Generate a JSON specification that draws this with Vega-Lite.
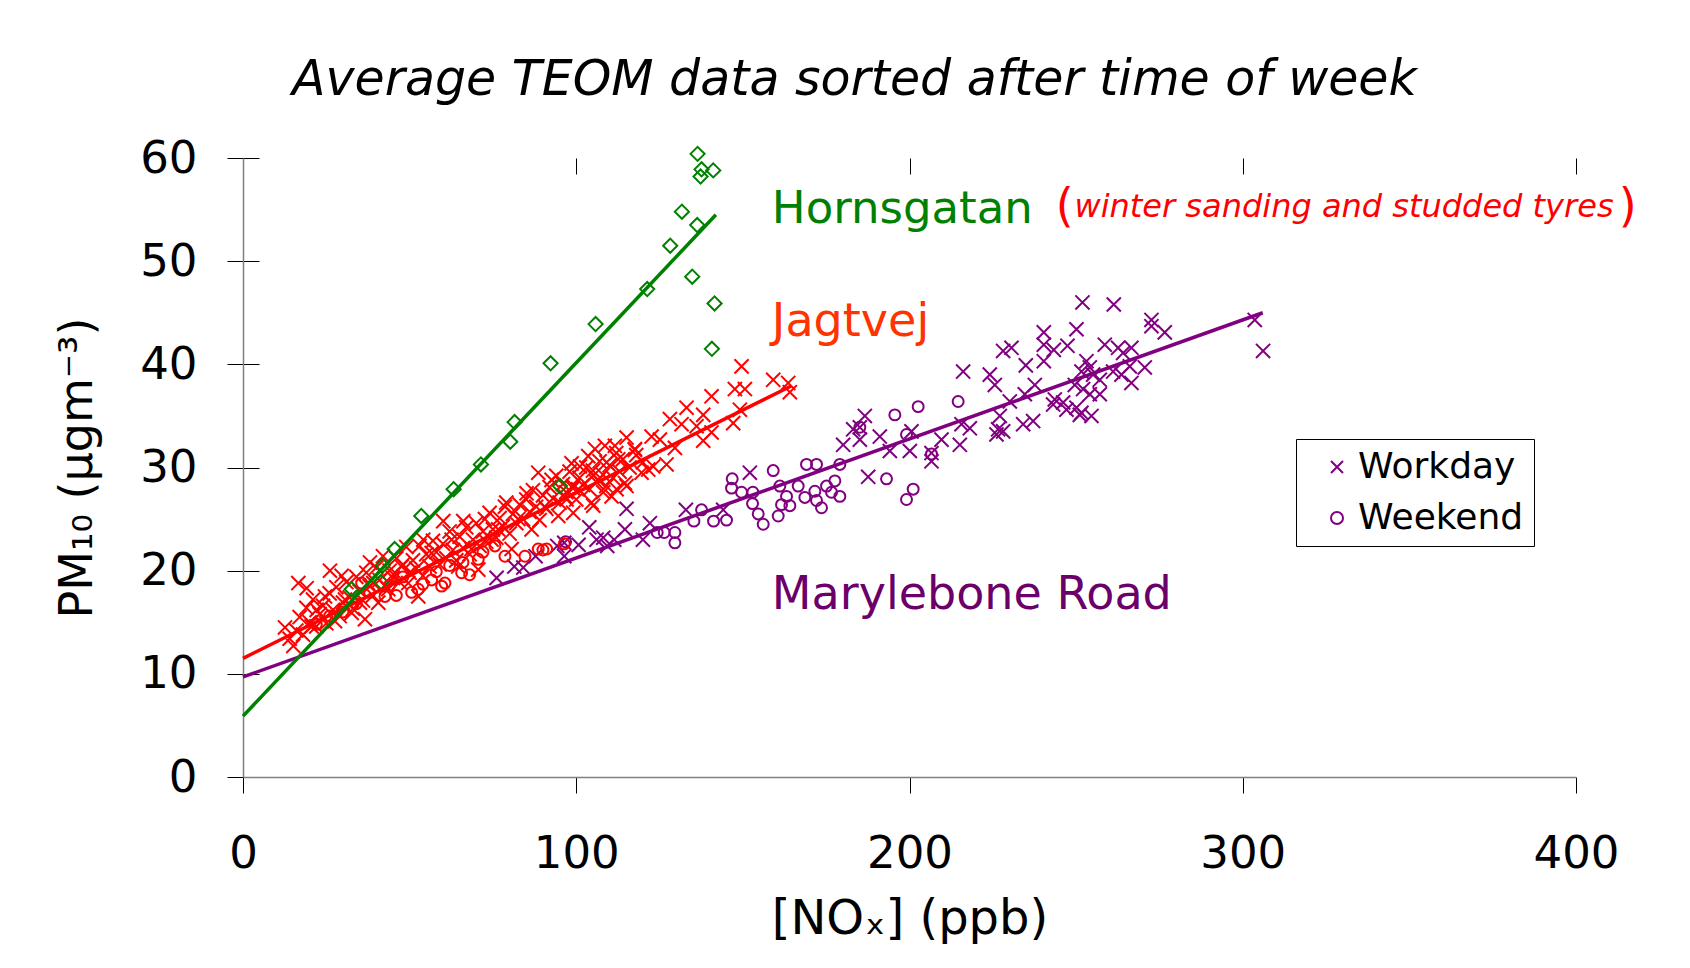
{
  "$schema": "https://vega.github.io/schema/vega-lite/v6.json",
  "width": 1333,
  "height": 619,
  "autosize": {"type": "none"},
  "padding": {"left": 243, "top": 158, "right": 114, "bottom": 191},
  "background": "white",
  "title": {"text": "Average TEOM data sorted after time of week", "font": "DejaVu Sans", "fontSize": 49, "fontStyle": "italic", "fontWeight": "normal", "color": "black", "anchor": "middle", "frame": "group", "baseline": "alphabetic", "offset": -8, "dx": -55},
  "config": {"view": {"stroke": null}, "font": "DejaVu Sans"},
  "datasets": {
    "fits": [
      {"site": "Marylebone Road", "nox": 0, "pm": 9.7},
      {"site": "Marylebone Road", "nox": 306, "pm": 45.0},
      {"site": "Jagtvej", "nox": 0, "pm": 11.5},
      {"site": "Jagtvej", "nox": 164.5, "pm": 37.9},
      {"site": "Hornsgatan", "nox": 0, "pm": 5.9},
      {"site": "Hornsgatan", "nox": 141.9, "pm": 54.5}
    ],
    "pts": [
      {"site": "Marylebone Road", "marker": "Workday", "nox": 76.1, "pm": 19.3},
      {"site": "Marylebone Road", "marker": "Workday", "nox": 81.4, "pm": 20.4},
      {"site": "Marylebone Road", "marker": "Workday", "nox": 84.1, "pm": 20.3},
      {"site": "Marylebone Road", "marker": "Workday", "nox": 87.8, "pm": 21.4},
      {"site": "Marylebone Road", "marker": "Workday", "nox": 94.3, "pm": 22.4},
      {"site": "Marylebone Road", "marker": "Workday", "nox": 96.4, "pm": 21.4},
      {"site": "Marylebone Road", "marker": "Workday", "nox": 96.4, "pm": 22.7},
      {"site": "Marylebone Road", "marker": "Workday", "nox": 100.7, "pm": 22.5},
      {"site": "Marylebone Road", "marker": "Workday", "nox": 103.9, "pm": 24.2},
      {"site": "Marylebone Road", "marker": "Workday", "nox": 106.1, "pm": 23.0},
      {"site": "Marylebone Road", "marker": "Workday", "nox": 108.1, "pm": 23.2},
      {"site": "Marylebone Road", "marker": "Workday", "nox": 109.3, "pm": 22.4},
      {"site": "Marylebone Road", "marker": "Workday", "nox": 111.4, "pm": 23.0},
      {"site": "Marylebone Road", "marker": "Workday", "nox": 114.6, "pm": 24.0},
      {"site": "Marylebone Road", "marker": "Workday", "nox": 115.1, "pm": 26.0},
      {"site": "Marylebone Road", "marker": "Workday", "nox": 120.0, "pm": 23.0},
      {"site": "Marylebone Road", "marker": "Workday", "nox": 122.1, "pm": 24.6},
      {"site": "Marylebone Road", "marker": "Workday", "nox": 132.9, "pm": 25.9},
      {"site": "Marylebone Road", "marker": "Workday", "nox": 144.1, "pm": 25.9},
      {"site": "Marylebone Road", "marker": "Workday", "nox": 152.1, "pm": 29.5},
      {"site": "Marylebone Road", "marker": "Workday", "nox": 180.1, "pm": 32.2},
      {"site": "Marylebone Road", "marker": "Workday", "nox": 183.1, "pm": 33.7},
      {"site": "Marylebone Road", "marker": "Workday", "nox": 185.1, "pm": 32.7},
      {"site": "Marylebone Road", "marker": "Workday", "nox": 185.1, "pm": 33.9},
      {"site": "Marylebone Road", "marker": "Workday", "nox": 186.6, "pm": 35.0},
      {"site": "Marylebone Road", "marker": "Workday", "nox": 187.6, "pm": 29.1},
      {"site": "Marylebone Road", "marker": "Workday", "nox": 191.1, "pm": 33.0},
      {"site": "Marylebone Road", "marker": "Workday", "nox": 194.1, "pm": 31.6},
      {"site": "Marylebone Road", "marker": "Workday", "nox": 251.9, "pm": 46.0},
      {"site": "Marylebone Road", "marker": "Workday", "nox": 261.3, "pm": 45.8},
      {"site": "Marylebone Road", "marker": "Workday", "nox": 272.6, "pm": 44.3},
      {"site": "Marylebone Road", "marker": "Workday", "nox": 272.6, "pm": 43.7},
      {"site": "Marylebone Road", "marker": "Workday", "nox": 276.6, "pm": 43.1},
      {"site": "Marylebone Road", "marker": "Workday", "nox": 250.1, "pm": 43.4},
      {"site": "Marylebone Road", "marker": "Workday", "nox": 240.3, "pm": 43.1},
      {"site": "Marylebone Road", "marker": "Workday", "nox": 240.3, "pm": 41.9},
      {"site": "Marylebone Road", "marker": "Workday", "nox": 243.3, "pm": 41.4},
      {"site": "Marylebone Road", "marker": "Workday", "nox": 247.4, "pm": 41.8},
      {"site": "Marylebone Road", "marker": "Workday", "nox": 228.1, "pm": 41.3},
      {"site": "Marylebone Road", "marker": "Workday", "nox": 230.6, "pm": 41.6},
      {"site": "Marylebone Road", "marker": "Workday", "nox": 234.9, "pm": 39.9},
      {"site": "Marylebone Road", "marker": "Workday", "nox": 240.3, "pm": 40.3},
      {"site": "Marylebone Road", "marker": "Workday", "nox": 216.1, "pm": 39.3},
      {"site": "Marylebone Road", "marker": "Workday", "nox": 224.1, "pm": 39.0},
      {"site": "Marylebone Road", "marker": "Workday", "nox": 225.6, "pm": 38.0},
      {"site": "Marylebone Road", "marker": "Workday", "nox": 237.6, "pm": 38.0},
      {"site": "Marylebone Road", "marker": "Workday", "nox": 234.6, "pm": 37.1},
      {"site": "Marylebone Road", "marker": "Workday", "nox": 230.1, "pm": 36.4},
      {"site": "Marylebone Road", "marker": "Workday", "nox": 215.6, "pm": 34.2},
      {"site": "Marylebone Road", "marker": "Workday", "nox": 218.1, "pm": 33.8},
      {"site": "Marylebone Road", "marker": "Workday", "nox": 227.1, "pm": 35.0},
      {"site": "Marylebone Road", "marker": "Workday", "nox": 226.6, "pm": 33.7},
      {"site": "Marylebone Road", "marker": "Workday", "nox": 228.1, "pm": 33.5},
      {"site": "Marylebone Road", "marker": "Workday", "nox": 226.1, "pm": 33.2},
      {"site": "Marylebone Road", "marker": "Workday", "nox": 234.1, "pm": 34.2},
      {"site": "Marylebone Road", "marker": "Workday", "nox": 237.1, "pm": 34.5},
      {"site": "Marylebone Road", "marker": "Workday", "nox": 215.1, "pm": 32.2},
      {"site": "Marylebone Road", "marker": "Workday", "nox": 209.6, "pm": 32.7},
      {"site": "Marylebone Road", "marker": "Workday", "nox": 206.6, "pm": 31.4},
      {"site": "Marylebone Road", "marker": "Workday", "nox": 206.6, "pm": 30.6},
      {"site": "Marylebone Road", "marker": "Workday", "nox": 200.6, "pm": 33.5},
      {"site": "Marylebone Road", "marker": "Workday", "nox": 200.1, "pm": 31.6},
      {"site": "Marylebone Road", "marker": "Workday", "nox": 258.6, "pm": 41.9},
      {"site": "Marylebone Road", "marker": "Workday", "nox": 262.6, "pm": 41.6},
      {"site": "Marylebone Road", "marker": "Workday", "nox": 264.1, "pm": 41.1},
      {"site": "Marylebone Road", "marker": "Workday", "nox": 266.6, "pm": 41.6},
      {"site": "Marylebone Road", "marker": "Workday", "nox": 253.1, "pm": 40.3},
      {"site": "Marylebone Road", "marker": "Workday", "nox": 254.1, "pm": 39.7},
      {"site": "Marylebone Road", "marker": "Workday", "nox": 251.6, "pm": 39.3},
      {"site": "Marylebone Road", "marker": "Workday", "nox": 255.1, "pm": 39.0},
      {"site": "Marylebone Road", "marker": "Workday", "nox": 257.1, "pm": 38.5},
      {"site": "Marylebone Road", "marker": "Workday", "nox": 261.1, "pm": 39.3},
      {"site": "Marylebone Road", "marker": "Workday", "nox": 263.6, "pm": 39.0},
      {"site": "Marylebone Road", "marker": "Workday", "nox": 266.1, "pm": 39.8},
      {"site": "Marylebone Road", "marker": "Workday", "nox": 270.6, "pm": 39.7},
      {"site": "Marylebone Road", "marker": "Workday", "nox": 266.6, "pm": 38.2},
      {"site": "Marylebone Road", "marker": "Workday", "nox": 249.6, "pm": 38.0},
      {"site": "Marylebone Road", "marker": "Workday", "nox": 252.1, "pm": 37.6},
      {"site": "Marylebone Road", "marker": "Workday", "nox": 254.1, "pm": 37.1},
      {"site": "Marylebone Road", "marker": "Workday", "nox": 257.1, "pm": 37.1},
      {"site": "Marylebone Road", "marker": "Workday", "nox": 243.6, "pm": 36.6},
      {"site": "Marylebone Road", "marker": "Workday", "nox": 246.1, "pm": 36.3},
      {"site": "Marylebone Road", "marker": "Workday", "nox": 243.1, "pm": 36.1},
      {"site": "Marylebone Road", "marker": "Workday", "nox": 247.1, "pm": 35.6},
      {"site": "Marylebone Road", "marker": "Workday", "nox": 250.1, "pm": 35.8},
      {"site": "Marylebone Road", "marker": "Workday", "nox": 251.6, "pm": 35.3},
      {"site": "Marylebone Road", "marker": "Workday", "nox": 254.6, "pm": 35.0},
      {"site": "Marylebone Road", "marker": "Workday", "nox": 251.1, "pm": 35.1},
      {"site": "Marylebone Road", "marker": "Workday", "nox": 303.6, "pm": 44.3},
      {"site": "Marylebone Road", "marker": "Workday", "nox": 306.1, "pm": 41.3},
      {"site": "Marylebone Road", "marker": "Weekend", "nox": 96.8, "pm": 22.8},
      {"site": "Marylebone Road", "marker": "Weekend", "nox": 124.3, "pm": 23.7},
      {"site": "Marylebone Road", "marker": "Weekend", "nox": 126.4, "pm": 23.7},
      {"site": "Marylebone Road", "marker": "Weekend", "nox": 129.6, "pm": 23.7},
      {"site": "Marylebone Road", "marker": "Weekend", "nox": 129.6, "pm": 22.7},
      {"site": "Marylebone Road", "marker": "Weekend", "nox": 135.3, "pm": 24.8},
      {"site": "Marylebone Road", "marker": "Weekend", "nox": 137.6, "pm": 25.9},
      {"site": "Marylebone Road", "marker": "Weekend", "nox": 141.2, "pm": 24.8},
      {"site": "Marylebone Road", "marker": "Weekend", "nox": 145.1, "pm": 24.9},
      {"site": "Marylebone Road", "marker": "Weekend", "nox": 146.8, "pm": 28.9},
      {"site": "Marylebone Road", "marker": "Weekend", "nox": 146.6, "pm": 28.0},
      {"site": "Marylebone Road", "marker": "Weekend", "nox": 149.6, "pm": 27.6},
      {"site": "Marylebone Road", "marker": "Weekend", "nox": 153.0, "pm": 27.6},
      {"site": "Marylebone Road", "marker": "Weekend", "nox": 152.9, "pm": 26.5},
      {"site": "Marylebone Road", "marker": "Weekend", "nox": 154.6, "pm": 25.5},
      {"site": "Marylebone Road", "marker": "Weekend", "nox": 156.1, "pm": 24.5},
      {"site": "Marylebone Road", "marker": "Weekend", "nox": 159.1, "pm": 29.7},
      {"site": "Marylebone Road", "marker": "Weekend", "nox": 160.6, "pm": 25.3},
      {"site": "Marylebone Road", "marker": "Weekend", "nox": 161.1, "pm": 28.2},
      {"site": "Marylebone Road", "marker": "Weekend", "nox": 161.6, "pm": 26.4},
      {"site": "Marylebone Road", "marker": "Weekend", "nox": 163.1, "pm": 27.2},
      {"site": "Marylebone Road", "marker": "Weekend", "nox": 164.1, "pm": 26.3},
      {"site": "Marylebone Road", "marker": "Weekend", "nox": 166.6, "pm": 28.2},
      {"site": "Marylebone Road", "marker": "Weekend", "nox": 168.6, "pm": 27.1},
      {"site": "Marylebone Road", "marker": "Weekend", "nox": 169.1, "pm": 30.3},
      {"site": "Marylebone Road", "marker": "Weekend", "nox": 171.6, "pm": 27.7},
      {"site": "Marylebone Road", "marker": "Weekend", "nox": 172.1, "pm": 30.3},
      {"site": "Marylebone Road", "marker": "Weekend", "nox": 172.1, "pm": 26.8},
      {"site": "Marylebone Road", "marker": "Weekend", "nox": 173.6, "pm": 26.1},
      {"site": "Marylebone Road", "marker": "Weekend", "nox": 175.1, "pm": 28.2},
      {"site": "Marylebone Road", "marker": "Weekend", "nox": 176.6, "pm": 27.6},
      {"site": "Marylebone Road", "marker": "Weekend", "nox": 177.6, "pm": 28.7},
      {"site": "Marylebone Road", "marker": "Weekend", "nox": 179.1, "pm": 27.2},
      {"site": "Marylebone Road", "marker": "Weekend", "nox": 179.1, "pm": 30.3},
      {"site": "Marylebone Road", "marker": "Weekend", "nox": 185.1, "pm": 33.9},
      {"site": "Marylebone Road", "marker": "Weekend", "nox": 193.1, "pm": 28.9},
      {"site": "Marylebone Road", "marker": "Weekend", "nox": 195.6, "pm": 35.1},
      {"site": "Marylebone Road", "marker": "Weekend", "nox": 199.1, "pm": 26.9},
      {"site": "Marylebone Road", "marker": "Weekend", "nox": 199.1, "pm": 33.2},
      {"site": "Marylebone Road", "marker": "Weekend", "nox": 201.1, "pm": 27.9},
      {"site": "Marylebone Road", "marker": "Weekend", "nox": 202.6, "pm": 35.9},
      {"site": "Marylebone Road", "marker": "Weekend", "nox": 206.6, "pm": 31.3},
      {"site": "Marylebone Road", "marker": "Weekend", "nox": 214.6, "pm": 36.4},
      {"site": "Jagtvej", "marker": "Workday", "nox": 12.6, "pm": 14.5},
      {"site": "Jagtvej", "marker": "Workday", "nox": 15.1, "pm": 12.7},
      {"site": "Jagtvej", "marker": "Workday", "nox": 16.6, "pm": 18.8},
      {"site": "Jagtvej", "marker": "Workday", "nox": 19.1, "pm": 18.3},
      {"site": "Jagtvej", "marker": "Workday", "nox": 20.6, "pm": 14.6},
      {"site": "Jagtvej", "marker": "Workday", "nox": 22.1, "pm": 16.2},
      {"site": "Jagtvej", "marker": "Workday", "nox": 24.6, "pm": 17.5},
      {"site": "Jagtvej", "marker": "Workday", "nox": 26.1, "pm": 20.0},
      {"site": "Jagtvej", "marker": "Workday", "nox": 27.6, "pm": 15.1},
      {"site": "Jagtvej", "marker": "Workday", "nox": 29.6, "pm": 19.5},
      {"site": "Jagtvej", "marker": "Workday", "nox": 30.6, "pm": 17.2},
      {"site": "Jagtvej", "marker": "Workday", "nox": 32.6, "pm": 15.9},
      {"site": "Jagtvej", "marker": "Workday", "nox": 35.1, "pm": 16.9},
      {"site": "Jagtvej", "marker": "Workday", "nox": 36.6, "pm": 15.3},
      {"site": "Jagtvej", "marker": "Workday", "nox": 38.1, "pm": 20.8},
      {"site": "Jagtvej", "marker": "Workday", "nox": 39.1, "pm": 18.8},
      {"site": "Jagtvej", "marker": "Workday", "nox": 40.6, "pm": 16.9},
      {"site": "Jagtvej", "marker": "Workday", "nox": 43.6, "pm": 18.2},
      {"site": "Jagtvej", "marker": "Workday", "nox": 45.6, "pm": 19.8},
      {"site": "Jagtvej", "marker": "Workday", "nox": 47.6, "pm": 20.4},
      {"site": "Jagtvej", "marker": "Workday", "nox": 49.6, "pm": 18.8},
      {"site": "Jagtvej", "marker": "Workday", "nox": 52.6, "pm": 17.5},
      {"site": "Jagtvej", "marker": "Workday", "nox": 54.1, "pm": 23.0},
      {"site": "Jagtvej", "marker": "Workday", "nox": 56.6, "pm": 21.7},
      {"site": "Jagtvej", "marker": "Workday", "nox": 60.1, "pm": 24.8},
      {"site": "Jagtvej", "marker": "Workday", "nox": 62.6, "pm": 23.0},
      {"site": "Jagtvej", "marker": "Workday", "nox": 64.6, "pm": 20.4},
      {"site": "Jagtvej", "marker": "Workday", "nox": 66.1, "pm": 24.8},
      {"site": "Jagtvej", "marker": "Workday", "nox": 68.6, "pm": 22.1},
      {"site": "Jagtvej", "marker": "Workday", "nox": 70.6, "pm": 20.1},
      {"site": "Jagtvej", "marker": "Workday", "nox": 72.6, "pm": 25.0},
      {"site": "Jagtvej", "marker": "Workday", "nox": 74.6, "pm": 23.0},
      {"site": "Jagtvej", "marker": "Workday", "nox": 76.6, "pm": 24.0},
      {"site": "Jagtvej", "marker": "Workday", "nox": 78.6, "pm": 26.2},
      {"site": "Jagtvej", "marker": "Workday", "nox": 80.6, "pm": 22.1},
      {"site": "Jagtvej", "marker": "Workday", "nox": 82.6, "pm": 25.0},
      {"site": "Jagtvej", "marker": "Workday", "nox": 85.1, "pm": 27.5},
      {"site": "Jagtvej", "marker": "Workday", "nox": 86.6, "pm": 24.0},
      {"site": "Jagtvej", "marker": "Workday", "nox": 88.6, "pm": 29.5},
      {"site": "Jagtvej", "marker": "Workday", "nox": 90.6, "pm": 26.2},
      {"site": "Jagtvej", "marker": "Workday", "nox": 92.6, "pm": 28.8},
      {"site": "Jagtvej", "marker": "Workday", "nox": 94.6, "pm": 25.3},
      {"site": "Jagtvej", "marker": "Workday", "nox": 96.6, "pm": 27.2},
      {"site": "Jagtvej", "marker": "Workday", "nox": 98.6, "pm": 30.4},
      {"site": "Jagtvej", "marker": "Workday", "nox": 100.6, "pm": 27.9},
      {"site": "Jagtvej", "marker": "Workday", "nox": 103.6, "pm": 31.1},
      {"site": "Jagtvej", "marker": "Workday", "nox": 104.6, "pm": 26.6},
      {"site": "Jagtvej", "marker": "Workday", "nox": 106.6, "pm": 28.8},
      {"site": "Jagtvej", "marker": "Workday", "nox": 108.6, "pm": 32.1},
      {"site": "Jagtvej", "marker": "Workday", "nox": 110.6, "pm": 27.2},
      {"site": "Jagtvej", "marker": "Workday", "nox": 112.6, "pm": 30.8},
      {"site": "Jagtvej", "marker": "Workday", "nox": 114.6, "pm": 28.5},
      {"site": "Jagtvej", "marker": "Workday", "nox": 117.6, "pm": 31.7},
      {"site": "Jagtvej", "marker": "Workday", "nox": 119.6, "pm": 29.5},
      {"site": "Jagtvej", "marker": "Workday", "nox": 149.6, "pm": 39.8},
      {"site": "Jagtvej", "marker": "Workday", "nox": 159.1, "pm": 38.5},
      {"site": "Jagtvej", "marker": "Workday", "nox": 163.6, "pm": 38.2},
      {"site": "Jagtvej", "marker": "Workday", "nox": 164.1, "pm": 37.3},
      {"site": "Jagtvej", "marker": "Workday", "nox": 147.6, "pm": 37.6},
      {"site": "Jagtvej", "marker": "Workday", "nox": 150.6, "pm": 37.6},
      {"site": "Jagtvej", "marker": "Workday", "nox": 140.6, "pm": 36.9},
      {"site": "Jagtvej", "marker": "Workday", "nox": 133.1, "pm": 35.8},
      {"site": "Jagtvej", "marker": "Workday", "nox": 138.1, "pm": 35.1},
      {"site": "Jagtvej", "marker": "Workday", "nox": 149.1, "pm": 35.6},
      {"site": "Jagtvej", "marker": "Workday", "nox": 147.1, "pm": 34.3},
      {"site": "Jagtvej", "marker": "Workday", "nox": 128.1, "pm": 34.7},
      {"site": "Jagtvej", "marker": "Workday", "nox": 131.6, "pm": 34.2},
      {"site": "Jagtvej", "marker": "Workday", "nox": 136.1, "pm": 34.0},
      {"site": "Jagtvej", "marker": "Workday", "nox": 140.6, "pm": 33.4},
      {"site": "Jagtvej", "marker": "Workday", "nox": 122.6, "pm": 33.0},
      {"site": "Jagtvej", "marker": "Workday", "nox": 138.1, "pm": 32.6},
      {"site": "Jagtvej", "marker": "Workday", "nox": 115.1, "pm": 32.9},
      {"site": "Jagtvej", "marker": "Workday", "nox": 117.6, "pm": 31.8},
      {"site": "Jagtvej", "marker": "Workday", "nox": 125.1, "pm": 32.7},
      {"site": "Jagtvej", "marker": "Workday", "nox": 129.6, "pm": 31.9},
      {"site": "Jagtvej", "marker": "Workday", "nox": 123.1, "pm": 30.1},
      {"site": "Jagtvej", "marker": "Workday", "nox": 127.1, "pm": 30.3},
      {"site": "Jagtvej", "marker": "Workday", "nox": 111.6, "pm": 32.1},
      {"site": "Jagtvej", "marker": "Workday", "nox": 105.6, "pm": 31.8},
      {"site": "Jagtvej", "marker": "Workday", "nox": 109.1, "pm": 30.5},
      {"site": "Jagtvej", "marker": "Workday", "nox": 115.1, "pm": 28.2},
      {"site": "Jagtvej", "marker": "Workday", "nox": 105.1, "pm": 29.2},
      {"site": "Jagtvej", "marker": "Workday", "nox": 101.1, "pm": 30.1},
      {"site": "Jagtvej", "marker": "Workday", "nox": 99.1, "pm": 28.2},
      {"site": "Jagtvej", "marker": "Workday", "nox": 108.1, "pm": 27.6},
      {"site": "Jagtvej", "marker": "Workday", "nox": 105.1, "pm": 26.3},
      {"site": "Jagtvej", "marker": "Workday", "nox": 97.1, "pm": 26.9},
      {"site": "Jagtvej", "marker": "Workday", "nox": 99.1, "pm": 25.6},
      {"site": "Jagtvej", "marker": "Workday", "nox": 112.1, "pm": 27.9},
      {"site": "Jagtvej", "marker": "Workday", "nox": 121.6, "pm": 29.8},
      {"site": "Jagtvej", "marker": "Workday", "nox": 14, "pm": 13.4},
      {"site": "Jagtvej", "marker": "Workday", "nox": 16, "pm": 14.2},
      {"site": "Jagtvej", "marker": "Workday", "nox": 17, "pm": 15.5},
      {"site": "Jagtvej", "marker": "Workday", "nox": 18, "pm": 13.8},
      {"site": "Jagtvej", "marker": "Workday", "nox": 19, "pm": 16.4},
      {"site": "Jagtvej", "marker": "Workday", "nox": 20, "pm": 15.0},
      {"site": "Jagtvej", "marker": "Workday", "nox": 21, "pm": 17.2},
      {"site": "Jagtvej", "marker": "Workday", "nox": 22, "pm": 14.6},
      {"site": "Jagtvej", "marker": "Workday", "nox": 23, "pm": 15.8},
      {"site": "Jagtvej", "marker": "Workday", "nox": 24, "pm": 16.6},
      {"site": "Jagtvej", "marker": "Workday", "nox": 25, "pm": 14.9},
      {"site": "Jagtvej", "marker": "Workday", "nox": 26, "pm": 17.8},
      {"site": "Jagtvej", "marker": "Workday", "nox": 27, "pm": 16.2},
      {"site": "Jagtvej", "marker": "Workday", "nox": 28, "pm": 18.4},
      {"site": "Jagtvej", "marker": "Workday", "nox": 29, "pm": 15.6},
      {"site": "Jagtvej", "marker": "Workday", "nox": 30, "pm": 16.9},
      {"site": "Jagtvej", "marker": "Workday", "nox": 31, "pm": 18.9},
      {"site": "Jagtvej", "marker": "Workday", "nox": 32, "pm": 17.4},
      {"site": "Jagtvej", "marker": "Workday", "nox": 33, "pm": 16.3},
      {"site": "Jagtvej", "marker": "Workday", "nox": 34, "pm": 19.4},
      {"site": "Jagtvej", "marker": "Workday", "nox": 35, "pm": 18.0},
      {"site": "Jagtvej", "marker": "Workday", "nox": 36, "pm": 17.1},
      {"site": "Jagtvej", "marker": "Workday", "nox": 37, "pm": 19.8},
      {"site": "Jagtvej", "marker": "Workday", "nox": 38, "pm": 18.5},
      {"site": "Jagtvej", "marker": "Workday", "nox": 39, "pm": 17.6},
      {"site": "Jagtvej", "marker": "Workday", "nox": 40, "pm": 20.3},
      {"site": "Jagtvej", "marker": "Workday", "nox": 41, "pm": 19.1},
      {"site": "Jagtvej", "marker": "Workday", "nox": 42, "pm": 21.4},
      {"site": "Jagtvej", "marker": "Workday", "nox": 43, "pm": 18.4},
      {"site": "Jagtvej", "marker": "Workday", "nox": 44, "pm": 20.0},
      {"site": "Jagtvej", "marker": "Workday", "nox": 45, "pm": 19.3},
      {"site": "Jagtvej", "marker": "Workday", "nox": 46, "pm": 21.2},
      {"site": "Jagtvej", "marker": "Workday", "nox": 47, "pm": 18.9},
      {"site": "Jagtvej", "marker": "Workday", "nox": 48, "pm": 20.6},
      {"site": "Jagtvej", "marker": "Workday", "nox": 49, "pm": 22.3},
      {"site": "Jagtvej", "marker": "Workday", "nox": 50, "pm": 19.8},
      {"site": "Jagtvej", "marker": "Workday", "nox": 51, "pm": 21.0},
      {"site": "Jagtvej", "marker": "Workday", "nox": 52, "pm": 20.2},
      {"site": "Jagtvej", "marker": "Workday", "nox": 53, "pm": 22.4},
      {"site": "Jagtvej", "marker": "Workday", "nox": 54, "pm": 19.5},
      {"site": "Jagtvej", "marker": "Workday", "nox": 55, "pm": 21.6},
      {"site": "Jagtvej", "marker": "Workday", "nox": 56, "pm": 20.4},
      {"site": "Jagtvej", "marker": "Workday", "nox": 57, "pm": 22.9},
      {"site": "Jagtvej", "marker": "Workday", "nox": 58, "pm": 21.8},
      {"site": "Jagtvej", "marker": "Workday", "nox": 59, "pm": 20.6},
      {"site": "Jagtvej", "marker": "Workday", "nox": 60, "pm": 22.6},
      {"site": "Jagtvej", "marker": "Workday", "nox": 61, "pm": 21.2},
      {"site": "Jagtvej", "marker": "Workday", "nox": 62, "pm": 23.8},
      {"site": "Jagtvej", "marker": "Workday", "nox": 63, "pm": 22.0},
      {"site": "Jagtvej", "marker": "Workday", "nox": 64, "pm": 21.0},
      {"site": "Jagtvej", "marker": "Workday", "nox": 65, "pm": 23.3},
      {"site": "Jagtvej", "marker": "Workday", "nox": 66, "pm": 22.2},
      {"site": "Jagtvej", "marker": "Workday", "nox": 67, "pm": 24.2},
      {"site": "Jagtvej", "marker": "Workday", "nox": 68, "pm": 21.6},
      {"site": "Jagtvej", "marker": "Workday", "nox": 69, "pm": 23.0},
      {"site": "Jagtvej", "marker": "Workday", "nox": 70, "pm": 24.6},
      {"site": "Jagtvej", "marker": "Workday", "nox": 71, "pm": 22.4},
      {"site": "Jagtvej", "marker": "Workday", "nox": 72, "pm": 23.8},
      {"site": "Jagtvej", "marker": "Workday", "nox": 73, "pm": 22.8},
      {"site": "Jagtvej", "marker": "Workday", "nox": 74, "pm": 25.6},
      {"site": "Jagtvej", "marker": "Workday", "nox": 75, "pm": 24.0},
      {"site": "Jagtvej", "marker": "Workday", "nox": 76, "pm": 23.2},
      {"site": "Jagtvej", "marker": "Workday", "nox": 77, "pm": 25.1},
      {"site": "Jagtvej", "marker": "Workday", "nox": 78, "pm": 24.3},
      {"site": "Jagtvej", "marker": "Workday", "nox": 79, "pm": 26.6},
      {"site": "Jagtvej", "marker": "Workday", "nox": 80, "pm": 23.6},
      {"site": "Jagtvej", "marker": "Workday", "nox": 81, "pm": 25.5},
      {"site": "Jagtvej", "marker": "Workday", "nox": 82, "pm": 24.6},
      {"site": "Jagtvej", "marker": "Workday", "nox": 83, "pm": 26.4},
      {"site": "Jagtvej", "marker": "Workday", "nox": 84, "pm": 25.0},
      {"site": "Jagtvej", "marker": "Workday", "nox": 85, "pm": 26.9},
      {"site": "Jagtvej", "marker": "Workday", "nox": 86, "pm": 25.7},
      {"site": "Jagtvej", "marker": "Workday", "nox": 87, "pm": 27.8},
      {"site": "Jagtvej", "marker": "Workday", "nox": 88, "pm": 26.2},
      {"site": "Jagtvej", "marker": "Workday", "nox": 89, "pm": 24.9},
      {"site": "Jagtvej", "marker": "Workday", "nox": 90, "pm": 27.3},
      {"site": "Jagtvej", "marker": "Workday", "nox": 91, "pm": 26.0},
      {"site": "Jagtvej", "marker": "Workday", "nox": 92, "pm": 28.1},
      {"site": "Jagtvej", "marker": "Workday", "nox": 93, "pm": 27.0},
      {"site": "Jagtvej", "marker": "Workday", "nox": 94, "pm": 29.2},
      {"site": "Jagtvej", "marker": "Workday", "nox": 95, "pm": 26.6},
      {"site": "Jagtvej", "marker": "Workday", "nox": 96, "pm": 28.4},
      {"site": "Jagtvej", "marker": "Workday", "nox": 97, "pm": 27.6},
      {"site": "Jagtvej", "marker": "Workday", "nox": 98, "pm": 29.6},
      {"site": "Jagtvej", "marker": "Workday", "nox": 99, "pm": 28.0},
      {"site": "Jagtvej", "marker": "Workday", "nox": 100, "pm": 26.9},
      {"site": "Jagtvej", "marker": "Workday", "nox": 101, "pm": 29.0},
      {"site": "Jagtvej", "marker": "Workday", "nox": 102, "pm": 28.3},
      {"site": "Jagtvej", "marker": "Workday", "nox": 103, "pm": 30.0},
      {"site": "Jagtvej", "marker": "Workday", "nox": 104, "pm": 27.9},
      {"site": "Jagtvej", "marker": "Workday", "nox": 105, "pm": 29.7},
      {"site": "Jagtvej", "marker": "Workday", "nox": 106, "pm": 28.6},
      {"site": "Jagtvej", "marker": "Workday", "nox": 107, "pm": 30.6},
      {"site": "Jagtvej", "marker": "Workday", "nox": 108, "pm": 29.3},
      {"site": "Jagtvej", "marker": "Workday", "nox": 109, "pm": 28.2},
      {"site": "Jagtvej", "marker": "Workday", "nox": 110, "pm": 30.2},
      {"site": "Jagtvej", "marker": "Workday", "nox": 111, "pm": 29.0},
      {"site": "Jagtvej", "marker": "Workday", "nox": 112, "pm": 31.4},
      {"site": "Jagtvej", "marker": "Workday", "nox": 113, "pm": 29.6},
      {"site": "Jagtvej", "marker": "Workday", "nox": 114, "pm": 30.8},
      {"site": "Jagtvej", "marker": "Workday", "nox": 116, "pm": 30.0},
      {"site": "Jagtvej", "marker": "Workday", "nox": 118, "pm": 31.2},
      {"site": "Jagtvej", "marker": "Workday", "nox": 120, "pm": 30.5},
      {"site": "Jagtvej", "marker": "Weekend", "nox": 22, "pm": 14.8},
      {"site": "Jagtvej", "marker": "Weekend", "nox": 26, "pm": 15.6},
      {"site": "Jagtvej", "marker": "Weekend", "nox": 30, "pm": 16.0},
      {"site": "Jagtvej", "marker": "Weekend", "nox": 34, "pm": 16.8},
      {"site": "Jagtvej", "marker": "Weekend", "nox": 35.6, "pm": 18.8},
      {"site": "Jagtvej", "marker": "Weekend", "nox": 38, "pm": 17.9},
      {"site": "Jagtvej", "marker": "Weekend", "nox": 42.6, "pm": 17.5},
      {"site": "Jagtvej", "marker": "Weekend", "nox": 44, "pm": 18.6},
      {"site": "Jagtvej", "marker": "Weekend", "nox": 46, "pm": 17.6},
      {"site": "Jagtvej", "marker": "Weekend", "nox": 48, "pm": 19.4},
      {"site": "Jagtvej", "marker": "Weekend", "nox": 50.6, "pm": 17.9},
      {"site": "Jagtvej", "marker": "Weekend", "nox": 52.6, "pm": 18.2},
      {"site": "Jagtvej", "marker": "Weekend", "nox": 54, "pm": 18.7},
      {"site": "Jagtvej", "marker": "Weekend", "nox": 56.6, "pm": 19.1},
      {"site": "Jagtvej", "marker": "Weekend", "nox": 58, "pm": 19.9},
      {"site": "Jagtvej", "marker": "Weekend", "nox": 59.6, "pm": 18.5},
      {"site": "Jagtvej", "marker": "Weekend", "nox": 60.6, "pm": 18.8},
      {"site": "Jagtvej", "marker": "Weekend", "nox": 62, "pm": 20.5},
      {"site": "Jagtvej", "marker": "Weekend", "nox": 65.6, "pm": 19.8},
      {"site": "Jagtvej", "marker": "Weekend", "nox": 66, "pm": 20.8},
      {"site": "Jagtvej", "marker": "Weekend", "nox": 68, "pm": 19.6},
      {"site": "Jagtvej", "marker": "Weekend", "nox": 70.6, "pm": 21.1},
      {"site": "Jagtvej", "marker": "Weekend", "nox": 72, "pm": 21.8},
      {"site": "Jagtvej", "marker": "Weekend", "nox": 75.6, "pm": 22.4},
      {"site": "Jagtvej", "marker": "Weekend", "nox": 78.6, "pm": 21.4},
      {"site": "Jagtvej", "marker": "Weekend", "nox": 84.6, "pm": 21.4},
      {"site": "Jagtvej", "marker": "Weekend", "nox": 88.6, "pm": 22.1},
      {"site": "Jagtvej", "marker": "Weekend", "nox": 90.0, "pm": 22.0},
      {"site": "Jagtvej", "marker": "Weekend", "nox": 91.1, "pm": 22.1},
      {"site": "Jagtvej", "marker": "Weekend", "nox": 96.4, "pm": 22.6},
      {"site": "Hornsgatan", "marker": "Diamond", "nox": 136.4, "pm": 60.4},
      {"site": "Hornsgatan", "marker": "Diamond", "nox": 137.6, "pm": 58.9},
      {"site": "Hornsgatan", "marker": "Diamond", "nox": 141.1, "pm": 58.8},
      {"site": "Hornsgatan", "marker": "Diamond", "nox": 137.3, "pm": 58.2},
      {"site": "Hornsgatan", "marker": "Diamond", "nox": 131.7, "pm": 54.8},
      {"site": "Hornsgatan", "marker": "Diamond", "nox": 136.3, "pm": 53.5},
      {"site": "Hornsgatan", "marker": "Diamond", "nox": 128.2, "pm": 51.5},
      {"site": "Hornsgatan", "marker": "Diamond", "nox": 121.3, "pm": 47.3},
      {"site": "Hornsgatan", "marker": "Diamond", "nox": 134.8, "pm": 48.5},
      {"site": "Hornsgatan", "marker": "Diamond", "nox": 141.5, "pm": 45.9},
      {"site": "Hornsgatan", "marker": "Diamond", "nox": 140.7, "pm": 41.5},
      {"site": "Hornsgatan", "marker": "Diamond", "nox": 105.8, "pm": 43.9},
      {"site": "Hornsgatan", "marker": "Diamond", "nox": 92.3, "pm": 40.1},
      {"site": "Hornsgatan", "marker": "Diamond", "nox": 81.5, "pm": 34.4},
      {"site": "Hornsgatan", "marker": "Diamond", "nox": 80.2, "pm": 32.5},
      {"site": "Hornsgatan", "marker": "Diamond", "nox": 71.4, "pm": 30.3},
      {"site": "Hornsgatan", "marker": "Diamond", "nox": 63.2, "pm": 27.9},
      {"site": "Hornsgatan", "marker": "Diamond", "nox": 53.5, "pm": 25.3},
      {"site": "Hornsgatan", "marker": "Diamond", "nox": 95.1, "pm": 28.2},
      {"site": "Hornsgatan", "marker": "Diamond", "nox": 45.5, "pm": 22.1},
      {"site": "Hornsgatan", "marker": "Diamond", "nox": 41.9, "pm": 20.5},
      {"site": "Hornsgatan", "marker": "Diamond", "nox": 41.4, "pm": 18.9},
      {"site": "Hornsgatan", "marker": "Diamond", "nox": 32.6, "pm": 18.2}
    ]
  },
  "encoding": {
    "x": {
      "field": "nox", "type": "quantitative",
      "scale": {"domain": [0, 400], "nice": false, "zero": false},
      "axis": {
        "title": "[NOₓ] (ppb)", "values": [0, 100, 200, 300, 400],
        "grid": true, "gridDash": [16, 3000], "gridColor": "black", "gridWidth": 1, "gridOpacity": 1,
        "tickSize": 16, "tickColor": "black", "tickWidth": 1,
        "domainColor": "#808080", "domainWidth": 1.5,
        "labelFont": "DejaVu Sans", "labelFontSize": 45, "labelColor": "black", "labelPadding": 38, "labelFlush": false, "labelOverlap": false,
        "titleFont": "DejaVu Sans", "titleFontSize": 48, "titleFontWeight": "normal", "titleColor": "black",
        "titleBaseline": "alphabetic", "titleX": 666.5, "titleY": 156
      }
    },
    "y": {
      "field": "pm", "type": "quantitative",
      "scale": {"domain": [0, 60], "nice": false, "zero": false},
      "axis": {
        "title": "PM₁₀ (µgm⁻³)", "values": [0, 10, 20, 30, 40, 50, 60],
        "grid": true, "gridDash": [16, 3000], "gridColor": "black", "gridWidth": 1, "gridOpacity": 1,
        "tickSize": 16, "tickColor": "black", "tickWidth": 1,
        "domainColor": "#808080", "domainWidth": 1.5,
        "labelFont": "DejaVu Sans", "labelFontSize": 45, "labelColor": "black", "labelPadding": 30, "labelFlush": false, "labelOverlap": false,
        "titleFont": "DejaVu Sans", "titleFontSize": 46, "titleFontWeight": "normal", "titleColor": "black",
        "titleBaseline": "alphabetic", "titleAngle": 270, "titleX": -152, "titleY": 309.5
      }
    }
  },
  "layer": [
    {
      "data": {"name": "pts"},
      "transform": [{"filter": {"field": "marker", "oneOf": ["Workday", "Diamond"]}}],
      "mark": {"type": "point", "filled": false, "strokeWidth": 2, "opacity": 1, "size": 200},
      "encoding": {
        "color": {"field": "site", "type": "nominal", "scale": {"domain": ["Marylebone Road", "Jagtvej", "Hornsgatan"], "range": ["#800080", "#FF0000", "#008000"]}, "legend": null},
        "shape": {
          "field": "marker", "type": "nominal",
          "scale": {"domain": ["Workday", "Weekend", "Diamond"], "range": ["M-1,-1L1,1M-1,1L1,-1", "circle", "diamond"]},
          "legend": {
            "values": ["Workday", "Weekend"], "title": null, "orient": "none", "legendX": 1053, "legendY": 281, "direction": "vertical",
            "strokeColor": "black", "fillColor": "white", "padding": 10, "cornerRadius": 0,
            "labelFont": "DejaVu Sans", "labelFontSize": 36, "labelColor": "black", "labelOffset": 3, "labelLimit": 400,
            "symbolSize": 144, "symbolStrokeColor": "#800080", "symbolStrokeWidth": 2, "symbolFillColor": "transparent",
            "symbolOffset": 13, "rowPadding": 15
          }
        }
      }
    },
    {
      "data": {"name": "pts"},
      "transform": [{"filter": {"field": "marker", "oneOf": ["Weekend"]}}],
      "mark": {"type": "point", "filled": false, "strokeWidth": 2, "opacity": 1, "size": 120},
      "encoding": {
        "color": {"field": "site", "type": "nominal", "legend": null},
        "shape": {"field": "marker", "type": "nominal"}
      }
    },
    {
      "data": {"name": "fits"},
      "mark": {"type": "line", "strokeWidth": 3.5},
      "encoding": {
        "color": {"field": "site", "type": "nominal", "legend": null}
      }
    },
    {
      "data": {"values": [{"nox": 158.7, "pm": 53.7, "label": "Hornsgatan"}]},
      "mark": {"type": "text", "align": "left", "baseline": "alphabetic", "font": "DejaVu Sans", "fontSize": 45, "color": "#008000"},
      "encoding": {"text": {"field": "label"}}
    },
    {
      "data": {"values": [{"nox": 158.7, "pm": 42.7, "label": "Jagtvej"}]},
      "mark": {"type": "text", "align": "left", "baseline": "alphabetic", "font": "DejaVu Sans", "fontSize": 46, "color": "#FF3300"},
      "encoding": {"text": {"field": "label"}}
    },
    {
      "data": {"values": [{"nox": 158.7, "pm": 16.3, "label": "Marylebone Road"}]},
      "mark": {"type": "text", "align": "left", "baseline": "alphabetic", "font": "DejaVu Sans", "fontSize": 46, "color": "#6B006B"},
      "encoding": {"text": {"field": "label"}}
    },
    {
      "data": {"values": [{"nox": 243.9, "pm": 53.9, "label": "("}, {"nox": 412.8, "pm": 53.9, "label": ")"}]},
      "mark": {"type": "text", "align": "left", "baseline": "alphabetic", "font": "DejaVu Sans", "fontSize": 46, "color": "#FF0000"},
      "encoding": {"text": {"field": "label"}}
    },
    {
      "data": {"values": [{"nox": 249.5, "pm": 54.3, "label": "winter sanding and studded tyres"}]},
      "mark": {"type": "text", "align": "left", "baseline": "alphabetic", "font": "DejaVu Sans", "fontSize": 32, "fontStyle": "italic", "color": "#FF0000"},
      "encoding": {"text": {"field": "label"}}
    }
  ]
}
